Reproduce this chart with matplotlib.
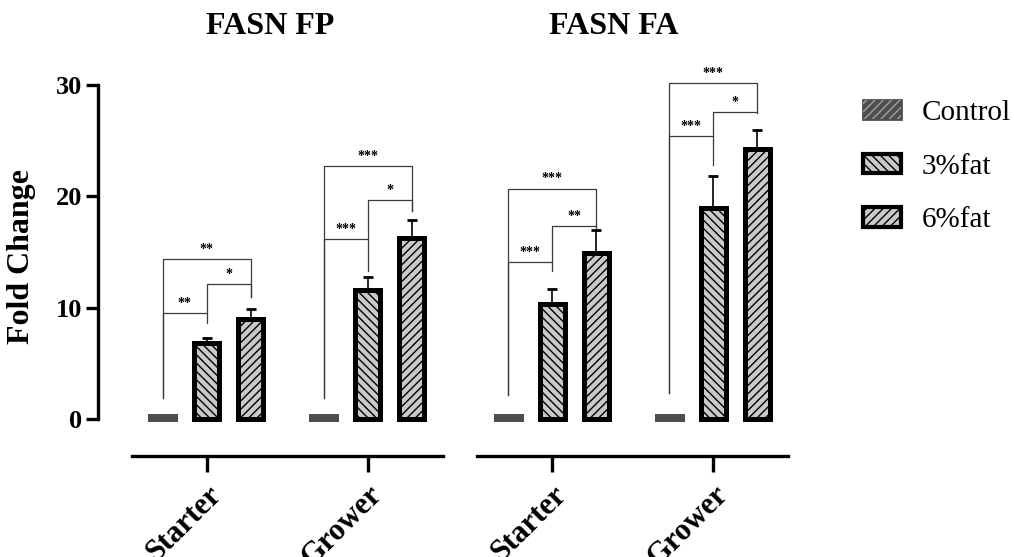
import matplotlib.pyplot as plt
import numpy as np
from matplotlib.legend_handler import HandlerTuple
from matplotlib.patches import Patch


plt.rcParams["font.family"] = ["Liberation Serif", "DejaVu Serif"]
plt.rcParams["hatch.linewidth"] = 1.0

STAGES = ["Starter", "Grower"]
GROUPS = ["Control", "3%fat", "6%fat"]
PANEL_TITLES = ["FASN FP", "FASN FA"]

# mean fold change, one value per stage (Starter, Grower)
FP_CONTROL = [0.25, 0.30]
FP_FAT3 = [6.8, 11.6]
FP_FAT6 = [9.0, 16.3]
FA_CONTROL = [0.25, 0.30]
FA_FAT3 = [10.3, 19.0]
FA_FAT6 = [14.9, 24.3]

# upper error bars
FP_CONTROL_ERR = [0.05, 0.08]
FP_FAT3_ERR = [0.5, 1.2]
FP_FAT6_ERR = [0.85, 1.6]
FA_CONTROL_ERR = [0.05, 0.08]
FA_FAT3_ERR = [1.35, 2.8]
FA_FAT6_ERR = [2.1, 1.7]

# significance brackets: (stage, group a, group b, level, left leg end, right leg end, label)
FP_BRACKETS = [
    (0, 0, 1, 9.5, 1.9, 8.65, "**"),
    (0, 1, 2, 12.1, 9.5, 11.0, "*"),
    (0, 0, 2, 14.4, 1.9, 11.0, "**"),
    (1, 0, 1, 16.15, 1.9, 13.3, "***"),
    (1, 1, 2, 19.7, 16.15, 18.7, "*"),
    (1, 0, 2, 22.75, 1.9, 18.7, "***"),
]
FA_BRACKETS = [
    (0, 0, 1, 14.1, 2.15, 13.3, "***"),
    (0, 1, 2, 17.35, 14.1, 17.2, "**"),
    (0, 0, 2, 20.7, 2.15, 17.35, "***"),
    (1, 0, 1, 25.4, 2.3, 22.8, "***"),
    (1, 1, 2, 27.6, 25.4, 27.5, "*"),
    (1, 0, 2, 30.2, 2.3, 27.6, "***"),
]

STAGE_GAP = 3.66
BAR_W = 0.57
CONTROL_GREY = "#4d4d4d"
FILL_GREY = "#c9c9c9"
HATCHES = ["////", "\\\\\\\\", "////"]


def draw_panel(ax, means, errs, brackets):
    stage_x = np.arange(len(STAGES)) * STAGE_GAP
    for k, (vals, err) in enumerate(zip(means, errs)):
        x = stage_x + (k - 1)
        ax.errorbar(x, vals, yerr=[np.zeros(len(err)), err], fmt="none",
                    ecolor="black", elinewidth=1.2, capsize=3.6, capthick=2.0, zorder=2)
        if k == 0:
            ax.bar(x, vals, BAR_W, facecolor=CONTROL_GREY, edgecolor=CONTROL_GREY,
                   linewidth=3.6, zorder=3, clip_on=False)
        else:
            ax.bar(x, vals, BAR_W, facecolor=FILL_GREY, edgecolor="black",
                   linewidth=3.6, hatch=HATCHES[k], zorder=3, clip_on=False)

    for stage, a, b, level, left_end, right_end, label in brackets:
        xa = stage * STAGE_GAP + (a - 1)
        xb = stage * STAGE_GAP + (b - 1)
        ax.plot([xa, xa, xb, xb], [left_end, level, level, right_end],
                color="#3a3a3a", linewidth=0.9, zorder=1)
        ax.text((xa + xb) / 2, level + 0.55, label, ha="center", va="baseline",
                fontsize=10, fontweight="bold")

    ax.set_xlim(-1.7, 5.37)
    ax.set_ylim(0, 33)
    ax.spines["top"].set_visible(False)
    ax.spines["right"].set_visible(False)
    ax.spines["bottom"].set_position(("outward", 26.4))
    ax.spines["bottom"].set_linewidth(2.4)
    ax.set_xticks(stage_x)
    ax.set_xticklabels(STAGES, rotation=45, ha="right", rotation_mode="anchor",
                       fontsize=22, fontweight="bold")
    ax.tick_params(axis="x", length=11.5, width=2.4, pad=6)


fig = plt.figure(figsize=(10.14, 5.57), dpi=100)
ax_fp = fig.add_axes([132 / 1014, 138 / 557, 311 / 1014, 367.3 / 557])
ax_fa = fig.add_axes([477.3 / 1014, 138 / 557, 311 / 1014, 367.3 / 557])

draw_panel(ax_fp, [FP_CONTROL, FP_FAT3, FP_FAT6],
           [FP_CONTROL_ERR, FP_FAT3_ERR, FP_FAT6_ERR], FP_BRACKETS)
draw_panel(ax_fa, [FA_CONTROL, FA_FAT3, FA_FAT6],
           [FA_CONTROL_ERR, FA_FAT3_ERR, FA_FAT6_ERR], FA_BRACKETS)

ax_fp.spines["left"].set_position(("outward", 24.5))
ax_fp.spines["left"].set_bounds(0, 30)
ax_fp.spines["left"].set_linewidth(2.4)
ax_fp.set_yticks([0, 10, 20, 30])
ax_fp.set_yticklabels(["0", "10", "20", "30"], fontsize=19, fontweight="bold")
ax_fp.tick_params(axis="y", length=8.6, width=2.4, pad=3)

ax_fa.spines["left"].set_visible(False)
ax_fa.set_yticks([])

for title, cx in zip(PANEL_TITLES, [270, 614]):
    fig.text(cx / 1014, 1 - 27 / 557, title, ha="center", va="center",
             fontsize=23, fontweight="bold")
fig.text(22 / 1014, 1 - 257 / 557, "Fold Change", rotation=90, ha="center",
         va="center", fontsize=23, fontweight="bold")

control_handle = (
    Patch(facecolor=CONTROL_GREY, edgecolor=CONTROL_GREY, linewidth=2),
    Patch(facecolor=CONTROL_GREY, edgecolor="#a0a0a0", hatch="////", linewidth=0),
)
handles = [
    control_handle,
    Patch(facecolor=FILL_GREY, edgecolor="black", hatch=HATCHES[1], linewidth=3),
    Patch(facecolor=FILL_GREY, edgecolor="black", hatch=HATCHES[2], linewidth=3),
]
fig.legend(handles, GROUPS, loc="upper left", bbox_to_anchor=(863 / 1014, 1 - 100 / 557),
           frameon=False, fontsize=21, handlelength=1.3, handleheight=0.65,
           handletextpad=0.7, labelspacing=0.95, borderpad=0, borderaxespad=0,
           handler_map={tuple: HandlerTuple(ndivide=1, pad=0)})

fig.savefig("out.png", dpi=100)
